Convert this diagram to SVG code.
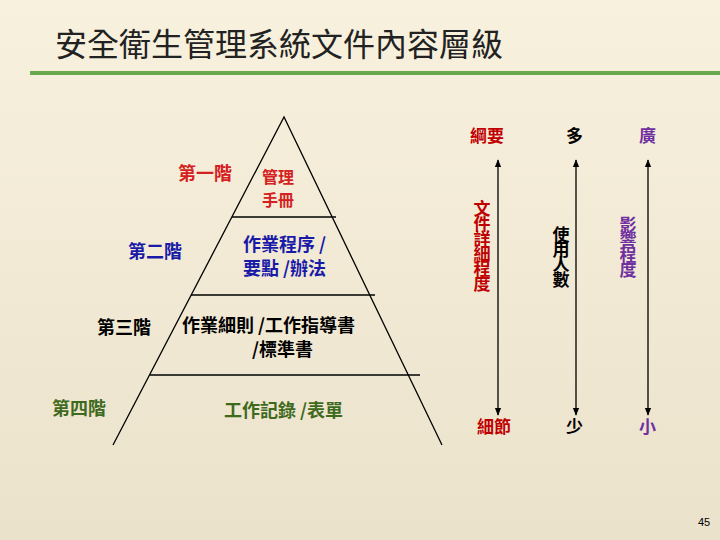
<svg xmlns="http://www.w3.org/2000/svg" width="720" height="540" viewBox="0 0 720 540">
<defs>
<linearGradient id="bg" x1="0" y1="0" x2="0" y2="1"><stop offset="0" stop-color="#f8f1de"/><stop offset="1" stop-color="#ebe2cb"/></linearGradient>
<marker id="ah" viewBox="0 0 10 10" refX="9" refY="5" markerWidth="6" markerHeight="6" orient="auto-start-reverse"><path d="M0,1 L10,5 L0,9 z" fill="#000"/></marker>
<style>
text{font-family:"Noto Sans CJK TC","Noto Sans CJK SC",sans-serif;font-weight:bold;font-size:18px}
.v{writing-mode:tb;letter-spacing:-2px}
.ln{stroke:#000;stroke-width:1.3;fill:none}
</style>
</defs>
<rect width="720" height="540" fill="url(#bg)"/>
<text x="55" y="56" style="font-size:32px;font-weight:normal;fill:#222">安全衛生管理系統文件內容層級</text>
<line x1="30" y1="73" x2="720" y2="73" stroke="#6aa84f" stroke-width="4"/>
<g id="pyramid">
<path class="ln" d="M113,445 L284,117 L442,445"/>
<line class="ln" x1="232" y1="217" x2="336" y2="217"/>
<line class="ln" x1="191" y1="295" x2="375" y2="295"/>
<line class="ln" x1="150" y1="375" x2="420" y2="375"/>
</g>
<g id="level1"><text x="178" y="180" fill="#d42020">第一階</text><text x="262" y="183" fill="#d42020" style="font-size:16px">管理</text><text x="262" y="206" fill="#d42020" style="font-size:16px">手冊</text></g>
<g id="level2"><text x="128" y="258" fill="#1a1aa8">第二階</text><text x="243" y="251" fill="#1a1aa8">作業程序 /</text><text x="243" y="275" fill="#1a1aa8">要點 /辦法</text></g>
<g id="level3"><text x="97" y="334" fill="#000">第三階</text><text x="182" y="332" fill="#000">作業細則 /工作指導書</text><text x="252" y="356" fill="#000">/標準書</text></g>
<g id="level4"><text x="52" y="415" fill="#3f6a1d">第四階</text><text x="224" y="417" fill="#3f6a1d">工作記錄 /表單</text></g>
<g id="connectors">
<line class="ln" x1="498" y1="160" x2="498" y2="415" marker-start="url(#ah)" marker-end="url(#ah)"/>
<line class="ln" x1="576" y1="160" x2="576" y2="415" marker-start="url(#ah)" marker-end="url(#ah)"/>
<line class="ln" x1="648" y1="160" x2="648" y2="415" marker-start="url(#ah)" marker-end="url(#ah)"/>
</g>
<g id="col1"><text x="470" y="142" fill="#c00000" style="font-size:17px">綱要</text><text class="v" x="482" y="200" fill="#c00000" style="font-size:17px">文件詳細程度</text><text x="477" y="433" fill="#c00000" style="font-size:17px">細節</text></g>
<g id="col2"><text x="566" y="142" fill="#000" style="font-size:17px">多</text><text class="v" x="561" y="226" fill="#000" style="font-size:17px">使用人數</text><text x="566" y="433" fill="#000" style="font-size:17px">少</text></g>
<g id="col3"><text x="639" y="142" fill="#7030a0" style="font-size:17px">廣</text><text class="v" x="628" y="216" fill="#7030a0" style="font-size:17px">影響程度</text><text x="639" y="433" fill="#7030a0" style="font-size:17px">小</text></g>
<text x="698" y="526" style="font-size:11px;font-weight:normal;font-family:'Liberation Sans',sans-serif">45</text>
</svg>
